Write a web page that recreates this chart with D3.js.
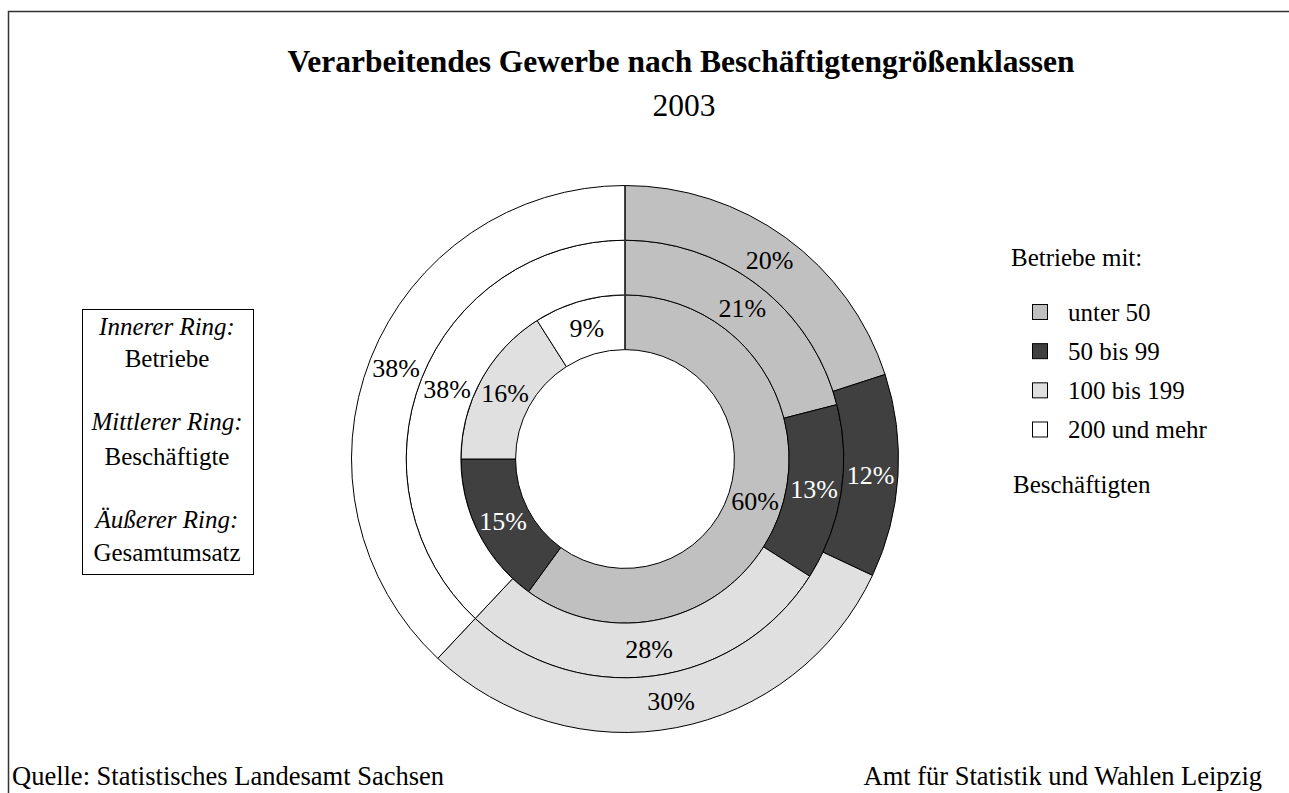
<!DOCTYPE html>
<html lang="de">
<head>
<meta charset="utf-8">
<script src="https://cdn.jsdelivr.net/npm/d3@7"></script>
<style>
  html, body { margin: 0; padding: 0; background: #fff; }
  svg { display: block; }
  text { font-family: "Liberation Serif", "Times New Roman", serif; fill: #000; }
</style>
</head>
<body>
<svg id="chart" width="1289" height="793"></svg>
<script>
// Größenklassen (Betriebe mit ... Beschäftigten)
const categories = ["unter 50", "50 bis 99", "100 bis 199", "200 und mehr"];
const fills = ["#c0c0c0", "#404040", "#e0e0e0", "#ffffff"];

// Anteile in Prozent, je Ring
const betriebe = [60, 15, 16, 9];          // innerer Ring
const beschaeftigte = [21, 13, 28, 38];    // mittlerer Ring
const gesamtumsatz = [20, 12, 30, 38];     // äußerer Ring

const rings = [
  { name: "Betriebe", values: betriebe },
  { name: "Beschäftigte", values: beschaeftigte },
  { name: "Gesamtumsatz", values: gesamtumsatz }
];

const W = 1289, H = 793;
const cx = 625, cy = 459, R = 273.5;

const svg = d3.select("#chart");

// Rahmen (oben und links sichtbar)
svg.append("rect")
  .attr("x", 8.5).attr("y", 11.5)
  .attr("width", W + 20).attr("height", H + 20)
  .attr("fill", "none").attr("stroke", "#333").attr("stroke-width", 1.5);

// Titel
svg.append("text")
  .attr("x", 681).attr("y", 72)
  .attr("text-anchor", "middle")
  .style("font-size", "31.5px").style("font-weight", "bold")
  .text("Verarbeitendes Gewerbe nach Beschäftigtengrößenklassen");
svg.append("text")
  .attr("x", 684).attr("y", 116)
  .attr("text-anchor", "middle")
  .style("font-size", "31.5px")
  .text("2003");

// Ringradien: Loch 40 %, dann drei gleich breite Ringe
const ringScale = d3.scaleLinear().domain([0, 3]).range([0.4 * R, R]);

const pie = d3.pie().sort(null).value(d => d).startAngle(0).endAngle(2 * Math.PI);

const g = svg.append("g").attr("transform", `translate(${cx},${cy})`);

rings.forEach((ring, i) => {
  const arc = d3.arc()
    .innerRadius(ringScale(i))
    .outerRadius(ringScale(i + 1));
  const arcs = pie(ring.values);
  const rg = g.append("g").attr("class", "ring");
  rg.selectAll("path")
    .data(arcs)
    .join("path")
    .attr("d", arc)
    .attr("fill", (d, j) => fills[j])
    .attr("stroke", "#000")
    .attr("stroke-width", 1);
  rg.selectAll("text")
    .data(arcs)
    .join("text")
    .attr("transform", d => `translate(${arc.centroid(d)})`)
    .attr("text-anchor", "middle")
    .attr("dy", "0.35em")
    .style("font-size", "26px")
    .style("fill", (d, j) => j === 1 ? "#fff" : "#000")
    .text(d => d.data + "%");
});

// Trennlinie bei 12 Uhr
g.append("line")
  .attr("x1", 0).attr("y1", -ringScale(0))
  .attr("x2", 0).attr("y2", -ringScale(3))
  .attr("stroke", "#333").attr("stroke-width", 1.6);

// Erläuterung der Ringe
const box = svg.append("g");
box.append("rect")
  .attr("x", 82.5).attr("y", 309.5).attr("width", 171).attr("height", 265)
  .attr("fill", "#fff").attr("stroke", "#000").attr("stroke-width", 1);
const boxLines = [
  { t: "Innerer Ring:", y: 335, italic: true },
  { t: "Betriebe", y: 367 },
  { t: "Mittlerer Ring:", y: 430, italic: true },
  { t: "Beschäftigte", y: 465 },
  { t: "Äußerer Ring:", y: 528, italic: true },
  { t: "Gesamtumsatz", y: 561 }
];
box.selectAll("text")
  .data(boxLines)
  .join("text")
  .attr("x", 167).attr("y", d => d.y)
  .attr("text-anchor", "middle")
  .style("font-size", "25px")
  .style("font-style", d => d.italic ? "italic" : "normal")
  .text(d => d.t);

// Legende
const legend = svg.append("g");
legend.append("text")
  .attr("x", 1011).attr("y", 266)
  .style("font-size", "25px")
  .text("Betriebe mit:");
const rowY = d3.scalePoint().domain(categories).range([312, 429.5]);
const items = legend.selectAll("g.item")
  .data(categories)
  .join("g").attr("class", "item")
  .attr("transform", d => `translate(0,${rowY(d)})`);
items.append("rect")
  .attr("x", 1032.5).attr("y", -7.5).attr("width", 15).attr("height", 15)
  .attr("fill", (d, j) => fills[j])
  .attr("stroke", "#000").attr("stroke-width", 1);
items.append("text")
  .attr("x", 1068).attr("dy", "0.35em")
  .style("font-size", "25px")
  .text(d => d);
legend.append("text")
  .attr("x", 1013).attr("y", 493)
  .style("font-size", "25px")
  .text("Beschäftigten");

// Fußzeile
svg.append("text")
  .attr("x", 12).attr("y", 785)
  .style("font-size", "26.5px")
  .text("Quelle: Statistisches Landesamt Sachsen");
svg.append("text")
  .attr("x", 1262).attr("y", 785)
  .attr("text-anchor", "end")
  .style("font-size", "26.5px")
  .text("Amt für Statistik und Wahlen Leipzig");
</script>
</body>
</html>
